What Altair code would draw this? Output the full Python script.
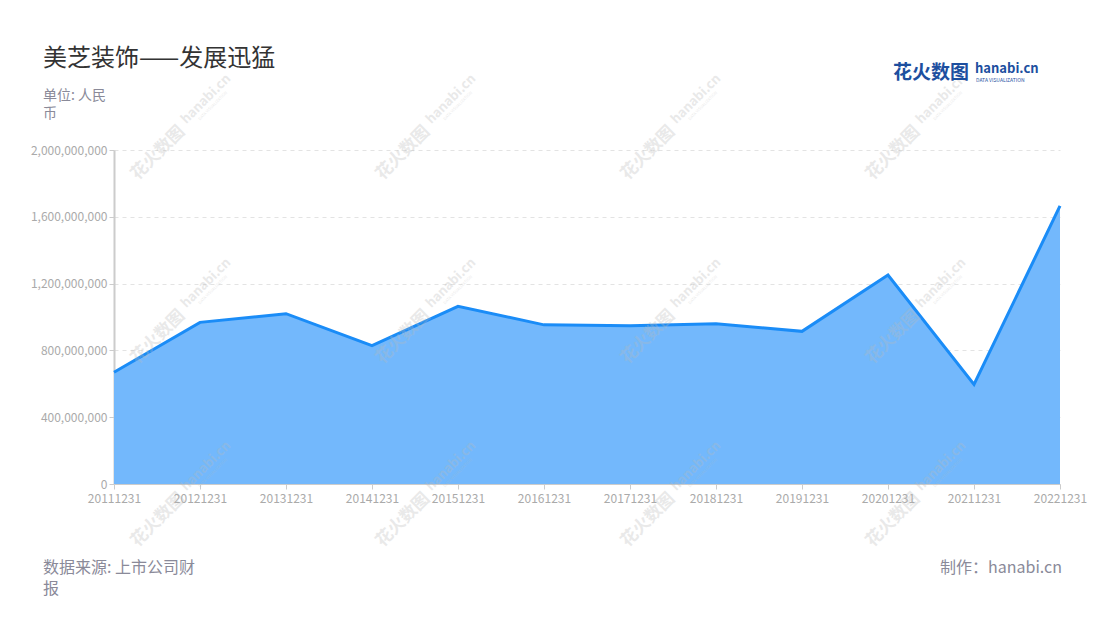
import altair as alt
import pandas as pd

dates = ["20111231", "20121231", "20131231", "20141231", "20151231", "20161231",
         "20171231", "20181231", "20191231", "20201231", "20211231", "20221231"]
values = [669e6, 968e6, 1020e6, 829e6, 1064e6, 953e6,
          947e6, 960e6, 914e6, 1251e6, 596e6, 1665e6]
y_ticks = [0, 400e6, 800e6, 1200e6, 1600e6, 2000e6]

title_text = "美芝装饰——发展迅猛"
unit_text = ["单位: 人民", "币"]
source_text = ["数据来源: 上市公司财", "报"]
maker_text = "制作：hanabi.cn"

df = pd.DataFrame({"date": dates, "value": values})

W, H = 946, 334
FONT = "Noto Sans CJK SC"

x = alt.X("date:O", sort=dates,
          scale=alt.Scale(type="point", padding=0),
          axis=alt.Axis(title=None, labelAngle=0, labelColor="#aaaaaa", labelFontSize=12,
                        labelFont=FONT, tickColor="#cccccc", domainColor="#cccccc",
                        tickSize=5, labelPadding=4, grid=False, domainWidth=1))
y = alt.Y("value:Q",
          scale=alt.Scale(domain=[0, 2e9], nice=False, zero=True),
          axis=alt.Axis(title=None, values=y_ticks, format=",.0f", labelColor="#aaaaaa",
                        labelFontSize=12, labelFont=FONT, tickColor="#cccccc",
                        domainColor="#cccccc", domainWidth=2, tickSize=5, labelPadding=2,
                        grid=True, gridDash=[4, 4], gridColor="#e3e3e3", gridWidth=1))

area = alt.Chart(df).mark_area(
    color="#73b8fc", opacity=1,
    line={"color": "#1a8cf7", "strokeWidth": 3}
).encode(x=x, y=y)

one = pd.DataFrame({"k": [0]})


def label(text, px, py, size, color, align="left", weight="normal", baseline="alphabetic",
          line_height=None, angle=None, opacity=None):
    kw = dict(text=text, fontSize=size, color=color, align=align, fontWeight=weight,
              baseline=baseline, font=FONT)
    if line_height is not None:
        kw["lineHeight"] = line_height
    if angle is not None:
        kw["angle"] = angle
    if opacity is not None:
        kw["opacity"] = opacity
    return alt.Chart(one).mark_text(**kw).encode(x=alt.value(px), y=alt.value(py))


# watermarks (decoration), relative to the plot area's top-left corner
wm_layers = []
for cx in (69, 314, 559, 804):
    for cy in (-22, 162, 345):
        wm_layers.append(label("花火数图", cx - 25, cy + 25, 17, "#b8b8b8", align="center",
                               weight="bold", baseline="middle", angle=315, opacity=0.3))
        wm_layers.append(label("hanabi.cn", cx + 23, cy - 29, 13, "#b8b8b8", align="center",
                               weight="bold", baseline="middle", angle=315, opacity=0.3))
        wm_layers.append(label("DATA VISUALIZATION", cx + 30, cy - 22, 4, "#b8b8b8",
                               align="center", baseline="middle", angle=315, opacity=0.3))

layers = [
    area,
    *wm_layers,
    label(title_text, -71, -84, 24, "#333333"),
    label(unit_text, -71, -50, 14, "#8a8a99", line_height=18),
    label(source_text, -71, 423, 16, "#8a8a99", line_height=21),
    label(maker_text, 948, 423, 16, "#8a8a99", align="right"),
    label("花火数图", 779, -71, 19, "#1d4f9f", weight="bold"),
    label("hanabi.cn", 861, -77, 13, "#1d4f9f", weight="bold"),
    label("DATA VISUALIZATION", 862, -68, 5, "#1d4f9f"),
]

chart = alt.layer(*layers).properties(
    width=W, height=H,
    autosize=alt.AutoSizeParams(type="none"),
    padding={"left": 106, "top": 142, "right": 30, "bottom": 125},
    background="white",
).configure_view(stroke=None)

chart.save("out.html", embed_options={"renderer": "svg", "actions": False})
